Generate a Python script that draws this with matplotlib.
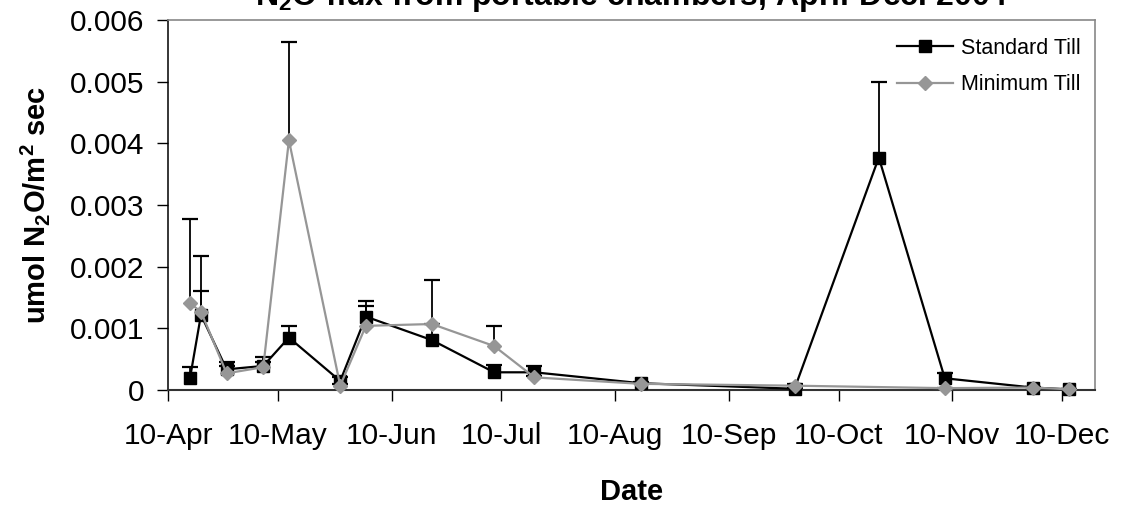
import datetime as dt
import matplotlib
matplotlib.use("Agg")
import matplotlib.pyplot as plt
import matplotlib.dates as mdates
import matplotlib.ticker as mticker
import numpy as np

plt.rcParams['font.family'] = ['Liberation Sans', 'DejaVu Sans']
plt.rcParams['mathtext.fontset'] = 'custom'
plt.rcParams['mathtext.rm'] = 'Liberation Sans'
plt.rcParams['mathtext.bf'] = 'Liberation Sans:bold'

# sampling dates (2004)
dates = ['2004-04-16', '2004-04-19', '2004-04-26', '2004-05-06', '2004-05-13',
         '2004-05-27', '2004-06-03', '2004-06-21', '2004-07-08', '2004-07-19',
         '2004-08-17', '2004-09-28', '2004-10-21', '2004-11-08', '2004-12-02',
         '2004-12-12']

standard_till = [0.00019, 0.00122, 0.000335, 0.00039, 0.00085,
                 0.000146, 0.00119, 0.00081, 0.000287, 0.000287,
                 0.00011, 0.00002, 0.00377, 0.00019, 0.00004,
                 0.00001]
standard_err = [0.00018, 0.00038, 0.00012, 0.00015, 0.00019,
                0.00006, 0.00025, 0.00026, 0.00012, 0.00011,
                0.00002, 0.00001, 0.00122, 0.00008, 0.00001,
                0.00001]

# no minimum till reading on 21 Oct
minimum_till = [0.001405, 0.00127, 0.00027, 0.00037, 0.00405,
                0.00007, 0.00104, 0.00107, 0.000713, 0.000205,
                0.0001, 0.00007, None, 0.00003, 0.00004,
                0.00001]
minimum_err = [0.00137, 0.0009, 0.00012, 0.00009, 0.0016,
               0.00003, 0.00033, 0.00071, 0.00033, 0.00003,
               0.00002, 0.00002, None, 0.00001, 0.00001,
               0.00001]

tick_dates = ['2004-04-10', '2004-05-10', '2004-06-10', '2004-07-10', '2004-08-10',
              '2004-09-10', '2004-10-10', '2004-11-10', '2004-12-10']

x = [dt.datetime.strptime(d, '%Y-%m-%d') for d in dates]
mt_x = [xi for xi, v in zip(x, minimum_till) if v is not None]
mt_y = np.array([v for v in minimum_till if v is not None])
mt_e = np.array([e for e in minimum_err if e is not None])
st_y = np.array(standard_till)
st_e = np.array(standard_err)

gray = '#969696'

fig = plt.figure(figsize=(11.23, 5.05), dpi=100)
ax = fig.add_axes([168 / 1123, 1 - 390 / 505, 927 / 1123, 370 / 505])

# upper error bars (black for both series)
for xs, ys, es in [(x, st_y, st_e), (mt_x, mt_y, mt_e)]:
    ax.vlines(xs, ys, ys + es, color='black', lw=1.3, zorder=2, clip_on=False)
    ax.plot(xs, ys + es, ls='none', marker='_', ms=11.5, mew=1.6, color='black',
            zorder=2, clip_on=False)

ax.plot(x, st_y, color='black', lw=1.6, marker='s', ms=8.5, mec='black',
        label='Standard Till', zorder=3, clip_on=False)
ax.plot(mt_x, mt_y, color=gray, lw=1.6, marker='D', ms=6.8, mec=gray,
        label='Minimum Till', zorder=4, clip_on=False)

ax.set_ylim(0, 0.006)
ax.set_xlim(dt.datetime(2004, 4, 10), dt.datetime(2004, 12, 19))
ax.yaxis.set_major_locator(mticker.MultipleLocator(0.001))
ax.yaxis.set_major_formatter(mticker.FuncFormatter(lambda v, p: '0' if abs(v) < 1e-9 else f'{v:.3f}'))
ax.set_xticks([dt.datetime.strptime(d, '%Y-%m-%d') for d in tick_dates])
ax.xaxis.set_major_formatter(mdates.DateFormatter('%d-%b'))

ax.tick_params(axis='both', labelsize=21.5, length=8, width=1, color='black', direction='out')
ax.tick_params(axis='y', pad=9)
ax.tick_params(axis='x', pad=15)

for side in ['top', 'right']:
    ax.spines[side].set_color('#888888')
    ax.spines[side].set_linewidth(1.2)
ax.spines['left'].set_color('black')
ax.spines['left'].set_linewidth(1.1)
ax.spines['bottom'].set_color('#333333')
ax.spines['bottom'].set_linewidth(1.5)

ax.set_title(r'N$_\mathbf{2}$O flux from portable chambers, April-Dec. 2004',
             fontsize=23, fontweight='bold', pad=11)
ax.set_ylabel(r'umol N$_\mathbf{2}$O/m$^\mathbf{2}$ sec', fontsize=21, fontweight='bold', labelpad=13)
ax.set_xlabel('Date', fontsize=21, fontweight='bold', labelpad=20)

ax.legend(loc='upper left', bbox_to_anchor=((897 - 168) / 927, (390 - 38) / 370),
          frameon=False, fontsize=15.5, handlelength=2.6, handletextpad=0.35,
          labelspacing=0.72, borderpad=0, borderaxespad=0)

fig.savefig('out.png', dpi=100)
